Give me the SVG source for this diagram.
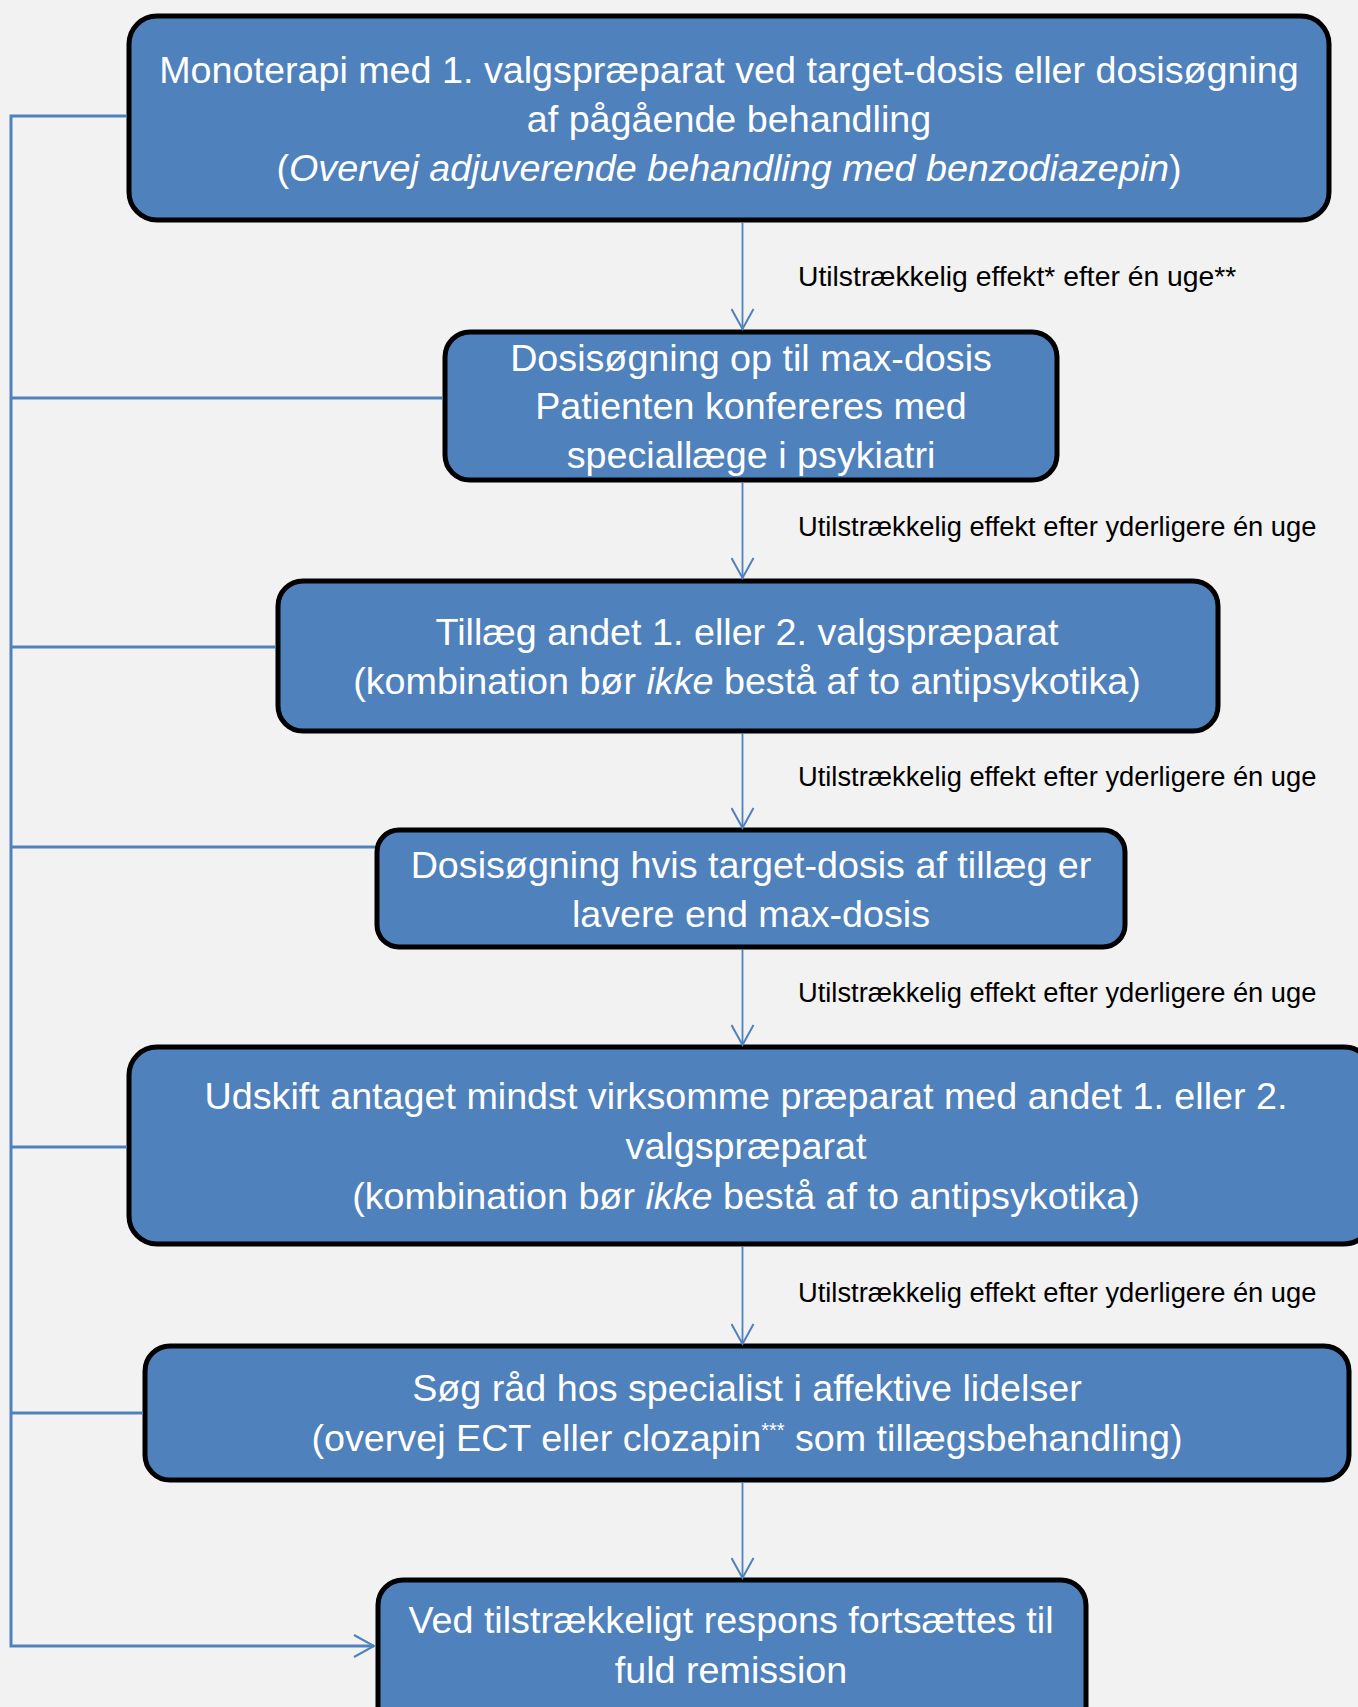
<svg xmlns="http://www.w3.org/2000/svg" width="1358" height="1707" viewBox="0 0 1358 1707">
<defs>
<style>
.box{fill:#4F81BD;stroke:#000;stroke-width:5}
.t{font-family:"Liberation Sans",Arial,sans-serif;font-size:37.7px;fill:#fff;text-anchor:middle}
.lbl{font-family:"Liberation Sans",Arial,sans-serif;font-size:27.3px;fill:#000}
.con{fill:none;stroke:#4F81BD;stroke-width:3}
.arr{fill:none;stroke:#4F81BD;stroke-width:1.8}
.i{font-style:italic}
</style>
<marker id="ah" viewBox="0 0 24 24" refX="21" refY="12" markerWidth="24" markerHeight="24" markerUnits="userSpaceOnUse" orient="auto">
<path d="M1,1 L21,12 L1,23" fill="none" stroke="#4F81BD" stroke-width="2"/>
</marker>
</defs>
<rect width="1358" height="1707" fill="#F2F2F2"/>

<g id="n1">
<rect class="box" x="129" y="16" width="1200" height="204" rx="28"/>
<text class="t" x="729" y="83">Monoterapi med 1. valgspræparat ved target-dosis eller dosisøgning</text>
<text class="t" x="729" y="132">af pågående behandling</text>
<text class="t" x="729" y="181">(<tspan class="i">Overvej adjuverende behandling med benzodiazepin</tspan>)</text>
</g>

<g id="n2">
<rect class="box" x="445" y="332" width="612" height="148" rx="25"/>
<text class="t" x="751" y="371">Dosisøgning op til max-dosis</text>
<text class="t" x="751" y="419">Patienten konfereres med</text>
<text class="t" x="751" y="468">speciallæge i psykiatri</text>
</g>

<g id="n3">
<rect class="box" x="278" y="581" width="940" height="150" rx="25"/>
<text class="t" x="747" y="645">Tillæg andet 1. eller 2. valgspræparat</text>
<text class="t" x="747" y="694">(kombination bør <tspan class="i">ikke</tspan> bestå af to antipsykotika)</text>
</g>

<g id="n4">
<rect class="box" x="377" y="830" width="748" height="117" rx="22"/>
<text class="t" x="751" y="878">Dosisøgning hvis target-dosis af tillæg er</text>
<text class="t" x="751" y="927">lavere end max-dosis</text>
</g>

<g id="n5">
<rect class="box" x="129" y="1047" width="1243" height="197" rx="28"/>
<text class="t" x="746" y="1109">Udskift antaget mindst virksomme præparat med andet 1. eller 2.</text>
<text class="t" x="746" y="1159">valgspræparat</text>
<text class="t" x="746" y="1209">(kombination bør <tspan class="i">ikke</tspan> bestå af to antipsykotika)</text>
</g>

<g id="n6">
<rect class="box" x="145" y="1346" width="1204" height="134" rx="25"/>
<text class="t" x="747" y="1401">Søg råd hos specialist i affektive lidelser</text>
<text class="t" x="747" y="1451">(overvej ECT eller clozapin<tspan font-size="20" dy="-14">***</tspan><tspan dy="14"> som tillægsbehandling)</tspan></text>
</g>

<g id="n7">
<rect class="box" x="378" y="1580" width="708" height="160" rx="25"/>
<text class="t" x="731" y="1633">Ved tilstrækkeligt respons fortsættes til</text>
<text class="t" x="731" y="1683">fuld remission</text>
</g>

<g id="connectors">
<path class="con" d="M127,116 H11 V1646 H374" marker-end="url(#ah)"/>
<path class="con" d="M11,398 H443"/>
<path class="con" d="M11,647 H276"/>
<path class="con" d="M11,847 H375"/>
<path class="con" d="M11,1147 H127"/>
<path class="con" d="M11,1413 H143"/>
<path class="arr" d="M742.5,223 V329" marker-end="url(#ah)"/>
<path class="arr" d="M742.5,483 V578" marker-end="url(#ah)"/>
<path class="arr" d="M742.5,733 V828" marker-end="url(#ah)"/>
<path class="arr" d="M742.5,949 V1045" marker-end="url(#ah)"/>
<path class="arr" d="M742.5,1247 V1344" marker-end="url(#ah)"/>
<path class="arr" d="M742.5,1482 V1578" marker-end="url(#ah)"/>
</g>

<g id="labels">
<text class="lbl" x="798" y="286" style="font-size:28.3px">Utilstrækkelig effekt* efter én uge**</text>
<text class="lbl" x="798" y="536">Utilstrækkelig effekt efter yderligere én uge</text>
<text class="lbl" x="798" y="786">Utilstrækkelig effekt efter yderligere én uge</text>
<text class="lbl" x="798" y="1002">Utilstrækkelig effekt efter yderligere én uge</text>
<text class="lbl" x="798" y="1302">Utilstrækkelig effekt efter yderligere én uge</text>
</g>
</svg>
